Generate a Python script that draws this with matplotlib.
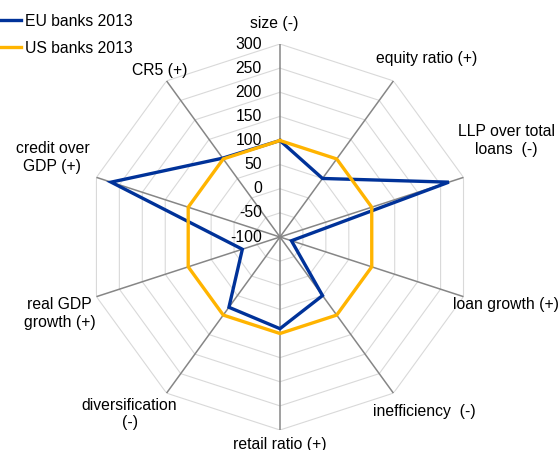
import numpy as np
import matplotlib
matplotlib.use("Agg")
import matplotlib.pyplot as plt
from matplotlib.lines import Line2D

plt.rcParams['font.family'] = ['Liberation Sans', 'DejaVu Sans']
plt.rcParams['font.size'] = 11.3

# axes, clockwise from the top
categories = ['size (-)', 'equity ratio (+)', 'LLP over total\nloans  (-)',
              'loan growth (+)', 'inefficiency  (-)', 'retail ratio (+)',
              'diversification\n(-)', 'real GDP\ngrowth (+)', 'credit over\nGDP (+)',
              'CR5 (+)']
eu_banks = [100, 50, 268, -75, 50, 90, 80, -18, 268, 102]
us_banks = [100, 100, 100, 100, 100, 100, 100, 100, 100, 100]
ticks = [-100, -50, 0, 50, 100, 150, 200, 250, 300]

# label offsets (pixels from the outer vertex)
lab_off = [(-6, 21), (33, 22), (43, 37), (42, -8), (31, -18),
           (0, -14), (-37, -21), (-37, -17), (-44, 20), (-7, 10)]

blue = '#003299'
orange = '#FFB400'

n = len(categories)
theta = np.linspace(0, 2 * np.pi, n, endpoint=False)
th_closed = np.append(theta, theta[0])

fig = plt.figure(figsize=(5.59, 4.5), dpi=100)
ax = fig.add_axes([0.1556, 0.0444, 0.6905, 0.8578], projection='polar')
ax.set_theta_zero_location('N')
ax.set_theta_direction(-1)
ax.set_ylim(-100, 300)
ax.axis('off')

# polygon rings
for v in ticks[1:]:
    ax.plot(th_closed, [v] * (n + 1), color='#d9d9d9', lw=0.8, zorder=1)
# spokes
for t in theta:
    ax.plot([t, t], [-100, 300], color='#868686', lw=1.1, zorder=2)

ax.plot(th_closed, eu_banks + eu_banks[:1], color=blue, lw=2.4,
        solid_joinstyle='miter', zorder=3)
ax.plot(th_closed, us_banks + us_banks[:1], color=orange, lw=2.4,
        solid_joinstyle='miter', zorder=4)

# radial tick labels
for v in ticks:
    ax.annotate(str(v), xy=(0, v), xytext=(-18, 0), textcoords='offset pixels',
                ha='right', va='center', color='#000000')

# category labels
for t, lab, off in zip(theta, categories, lab_off):
    ax.annotate(lab, xy=(t, 300), xytext=off, textcoords='offset pixels',
                ha='center', va='center', multialignment='center',
                linespacing=1.2)

handles = [Line2D([], [], color=blue, lw=2.4), Line2D([], [], color=orange, lw=2.4)]
fig.legend(handles, ['EU banks 2013', 'US banks 2013'], loc='upper left',
           bbox_to_anchor=(-0.007, 0.969), frameon=False, handlelength=1.6,
           handletextpad=0.25, borderaxespad=0, borderpad=0, labelspacing=0.75)

fig.savefig('out.png', dpi=100)
